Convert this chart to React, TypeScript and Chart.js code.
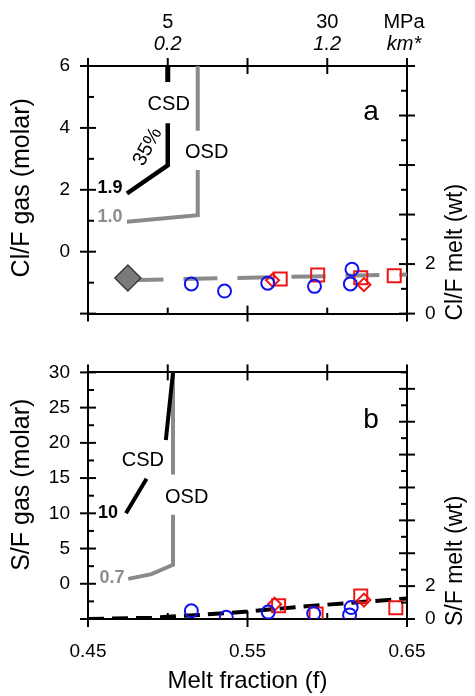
import React, { useEffect, useRef } from 'react';
import { Chart, registerables } from 'chart.js';
Chart.register(...registerables);

const FONT = '"Liberation Sans", Arial, Helvetica, sans-serif';

// ---------- shared x (melt fraction) ----------
const meltMin = 0.45;
const meltMax = 0.65;
const meltLabels = [0.45, 0.55, 0.65];
const meltMajor = [0.45, 0.55, 0.65];
const meltMinor = [0.5, 0.6];
const meltTopMajor = [0.45, 0.5, 0.55, 0.6, 0.65];
const topPositions = [0.5, 0.6, 0.65];
const pressureLabels = ['5', '30', 'MPa'];
const depthLabels = ['0.2', '1.2', 'km*'];

// ---------- panel a ----------
const clGasMin = -2;
const clGasMax = 6;
const clGasLabels = [0, 2, 4, 6];
const clGasMajor = [-2, 0, 2, 4, 6];
const clGasMinor = [-1, 1, 3, 5];
const clMeltMin = 0;
const clMeltMax = 10;
const clMeltLabels = [0, 2];
const clMeltMajor = [0, 2, 4, 6, 8, 10];
const clMeltMinor = [1, 3, 5, 7, 9];

const clCsdTop: number[][] = [[0.5, 6], [0.5, 5.48]];
const clCsdLow: number[][] = [[0.5, 4.15], [0.5, 2.79], [0.4744, 1.88]];
const clOsdTop: number[][] = [[0.5188, 6], [0.5188, 3.91]];
const clOsdLow: number[][] = [[0.5188, 2.64], [0.5188, 1.18], [0.4744, 0.97]];
const clTrend: number[][] = [[0.476, 1.35], [0.65, 1.58]];
const clStart: number[][] = [[0.475, 1.44]];
const clCircles: number[][] = [[0.5148, 1.2], [0.5356, 0.91], [0.5627, 1.23], [0.592, 1.1], [0.6145, 1.2], [0.6155, 1.79]];
const clSquares: number[][] = [[0.5705, 1.4], [0.594, 1.56], [0.621, 1.45], [0.642, 1.53]];
const clDiamonds: number[][] = [[0.5657, 1.35], [0.623, 1.17]];

// ---------- panel b ----------
const sfGasMin = -5;
const sfGasMax = 30;
const sfGasLabels = [0, 5, 10, 15, 20, 25, 30];
const sfGasMajor = [-5, 0, 5, 10, 15, 20, 25, 30];
const sfGasMinor = [-2.5, 2.5, 7.5, 12.5, 17.5, 22.5, 27.5];
const sfMeltMin = 0;
const sfMeltMax = 15;
const sfMeltLabels = [0, 2];
const sfMeltMajor = [0, 2, 4, 6, 8, 10, 12, 14];
const sfMeltMinor = [1, 3, 5, 7, 9, 11, 13, 15];

const sfCsdTop: number[][] = [[0.5033, 30], [0.4988, 20.4]];
const sfCsdLow: number[][] = [[0.4867, 14.9], [0.4738, 10.0]];
const sfOsdTop: number[][] = [[0.5033, 30], [0.5033, 15.5]];
const sfOsdLow: number[][] = [[0.5033, 9.8], [0.5033, 2.7], [0.4898, 1.37], [0.4752, 0.7]];
const sfTrend: number[][] = [[0.45, 0.0], [0.49, 0.08], [0.52, 0.25], [0.55, 0.45], [0.58, 0.72], [0.61, 0.95], [0.65, 1.25]];
const sfCircles: number[][] = [[0.5148, 0.5], [0.5367, 0.1], [0.563, 0.42], [0.5915, 0.33], [0.614, 0.25], [0.615, 0.7]];
const sfSquares: number[][] = [[0.5695, 0.8], [0.593, 0.3], [0.621, 1.4], [0.643, 0.68]];
const sfDiamonds: number[][] = [[0.567, 0.9], [0.623, 1.15]];

const BLUE = '#1212ee';
const RED = '#ee1515';
const GRAY = '#8a8a8a';

const pts = (a: number[][]) => a.map(([x, y]) => ({ x, y }));

type TickSpec = { axis: string; side: 'left' | 'right' | 'top' | 'bottom'; major: number[]; minor: number[] };
type Note = { text: string; x: number; y: number; size: number; color?: string; bold?: boolean; italic?: boolean; rot?: number; axis?: string };

function drawTicks(chart: any, specs: TickSpec[]) {
  const ctx = chart.ctx;
  const ca = chart.chartArea;
  const M = 8;
  const m = 6;
  ctx.save();
  ctx.strokeStyle = '#000';
  ctx.lineWidth = 2;
  for (const s of specs) {
    const sc = chart.scales[s.axis];
    const one = (v: number, major: boolean) => {
      const p = sc.getPixelForValue(v);
      ctx.beginPath();
      if (s.side === 'left') {
        const x0 = ca.left;
        ctx.moveTo(major ? x0 - M : x0, p);
        ctx.lineTo(x0 + (major ? M : m), p);
      } else if (s.side === 'right') {
        const x0 = ca.right;
        ctx.moveTo(x0 - (major ? M : m), p);
        ctx.lineTo(major ? x0 + M : x0, p);
      } else if (s.side === 'top') {
        const y0 = ca.top;
        ctx.moveTo(p, major ? y0 - M : y0);
        ctx.lineTo(p, y0 + (major ? M : m));
      } else {
        const y0 = ca.bottom;
        ctx.moveTo(p, y0 - (major ? M : m));
        ctx.lineTo(p, major ? y0 + M : y0);
      }
      ctx.stroke();
    };
    s.major.forEach((v) => one(v, true));
    s.minor.forEach((v) => one(v, false));
  }
  ctx.restore();
}

function drawNotes(chart: any, notes: Note[]) {
  const ctx = chart.ctx;
  for (const n of notes) {
    const px = chart.scales.x.getPixelForValue(n.x);
    const py = chart.scales[n.axis || 'y'].getPixelForValue(n.y);
    ctx.save();
    ctx.translate(px, py);
    if (n.rot) ctx.rotate((n.rot * Math.PI) / 180);
    ctx.font = `${n.italic ? 'italic ' : ''}${n.bold ? 'bold ' : ''}${n.size}px ${FONT}`;
    ctx.fillStyle = n.color || '#000';
    ctx.textAlign = 'center';
    ctx.textBaseline = 'middle';
    ctx.fillText(n.text, 0, 0);
    ctx.restore();
  }
}

// axis titles rotated to read bottom-to-top
function drawLeftTitle(chart: any, text: string, centerShift: number) {
  const ctx = chart.ctx;
  const ca = chart.chartArea;
  ctx.save();
  ctx.translate(22, (ca.top + ca.bottom) / 2 + centerShift);
  ctx.rotate(-Math.PI / 2);
  ctx.font = `25px ${FONT}`;
  ctx.fillStyle = '#000';
  ctx.textAlign = 'center';
  ctx.textBaseline = 'middle';
  ctx.fillText(text, 0, 0);
  ctx.restore();
}

function drawRightTitle(chart: any, text: string) {
  const ctx = chart.ctx;
  const ca = chart.chartArea;
  ctx.save();
  ctx.translate(ca.right + 49, ca.bottom + 7);
  ctx.rotate(-Math.PI / 2);
  ctx.font = `23px ${FONT}`;
  ctx.fillStyle = '#000';
  ctx.textAlign = 'left';
  ctx.textBaseline = 'middle';
  ctx.fillText(text, 0, 0);
  ctx.restore();
}

function fixedTicks(values: number[]) {
  return (scale: any) => {
    scale.ticks = values.map((v) => ({ value: v }));
  };
}

function baseScales(opts: {
  yMin: number; yMax: number; yLabels: number[];
  y2Min: number; y2Max: number; y2Labels: number[];
  topH: number; bottomH: number; showX: boolean;
}) {
  const border = { display: true, color: '#000', width: 2 };
  const noGrid = { display: false, drawTicks: false };
  return {
    x: {
      type: 'linear', position: 'bottom', min: meltMin, max: meltMax,
      grid: noGrid, border,
      afterBuildTicks: fixedTicks(meltLabels),
      ticks: {
        display: opts.showX, autoSkip: false, maxRotation: 0, padding: 21, color: '#000',
        font: { family: FONT, size: 19 },
        callback: (v: any) => Number(v).toFixed(2),
      },
      title: {
        display: opts.showX, text: 'Melt fraction (f)', color: '#000',
        font: { family: FONT, size: 24 }, padding: { top: 0, bottom: 0 },
      },
      afterFit: (s: any) => { s.height = opts.bottomH; },
    },
    xTop: {
      type: 'linear', position: 'top', min: meltMin, max: meltMax,
      grid: noGrid, border, ticks: { display: false },
      afterFit: (s: any) => { s.height = opts.topH; },
    },
    y: {
      type: 'linear', position: 'left', min: opts.yMin, max: opts.yMax,
      grid: noGrid, border,
      afterBuildTicks: fixedTicks(opts.yLabels),
      ticks: { autoSkip: false, padding: 18, color: '#000', font: { family: FONT, size: 19 } },
      afterFit: (s: any) => { s.width = 88; },
    },
    y2: {
      type: 'linear', position: 'right', min: opts.y2Min, max: opts.y2Max,
      grid: noGrid, border,
      afterBuildTicks: fixedTicks(opts.y2Labels),
      ticks: { autoSkip: false, padding: 18, color: '#000', font: { family: FONT, size: 19 } },
      afterFit: (s: any) => { s.width = 68; },
    },
  };
}

const lineDs = (data: number[][], color: string, width: number, dash: number[] = [], axis = 'y') => ({
  data: pts(data), showLine: true, borderColor: color, borderWidth: width, borderDash: dash,
  pointRadius: 0, yAxisID: axis, fill: false, tension: 0, borderCapStyle: 'butt',
});
const markDs = (data: number[][], style: string, color: string, radius: number, width = 2, fillColor = 'rgba(0,0,0,0)') => ({
  data: pts(data), showLine: false, pointStyle: style, pointRadius: radius, pointBorderWidth: width,
  pointBorderColor: color, pointBackgroundColor: fillColor, yAxisID: 'y2',
});

function useChart(ref: React.RefObject<HTMLCanvasElement>, make: () => any) {
  useEffect(() => {
    if (!ref.current) return;
    const c = new Chart(ref.current, make());
    return () => c.destroy();
  }, []);
}

export default function App() {
  const refA = useRef<HTMLCanvasElement>(null);
  const refB = useRef<HTMLCanvasElement>(null);

  useChart(refA, () => ({
    type: 'scatter',
    data: {
      datasets: [
        markDs(clStart, 'rectRot', '#3a3a3a', 13, 1.5, '#7a7a7a'),
        markDs(clCircles, 'circle', BLUE, 6.5),
        markDs(clSquares, 'rect', RED, 9.2),
        markDs(clDiamonds, 'rectRot', RED, 6.5),
        lineDs(clTrend, GRAY, 4, [34, 20], 'y2'),
        lineDs(clCsdTop, '#000', 5),
        lineDs(clCsdLow, '#000', 4.5),
        lineDs(clOsdTop, GRAY, 4),
        lineDs(clOsdLow, GRAY, 4),
      ],
    },
    options: {
      responsive: false, maintainAspectRatio: false, animation: false, events: [],
      layout: { padding: 0 },
      plugins: { legend: { display: false }, tooltip: { enabled: false } },
      scales: baseScales({
        yMin: clGasMin, yMax: clGasMax, yLabels: clGasLabels,
        y2Min: clMeltMin, y2Max: clMeltMax, y2Labels: clMeltLabels,
        topH: 66, bottomH: 13, showX: false,
      }),
    },
    plugins: [{
      id: 'decorA',
      afterDraw(chart: any) {
        drawTicks(chart, [
          { axis: 'y', side: 'left', major: clGasMajor, minor: clGasMinor },
          { axis: 'y2', side: 'right', major: clMeltMajor, minor: clMeltMinor },
          { axis: 'xTop', side: 'top', major: meltTopMajor, minor: [] },
          { axis: 'x', side: 'bottom', major: meltMajor, minor: meltMinor },
        ]);
        const ctx = chart.ctx;
        const xs = chart.scales.xTop;
        ctx.save();
        ctx.fillStyle = '#000';
        ctx.textAlign = 'center';
        ctx.textBaseline = 'middle';
        topPositions.forEach((v, i) => {
          const px = xs.getPixelForValue(v) - (i === 2 ? 3 : 0);
          ctx.font = `20px ${FONT}`;
          ctx.fillText(pressureLabels[i], px, 22);
          ctx.font = `italic 20px ${FONT}`;
          ctx.fillText(depthLabels[i], px, 44);
        });
        ctx.restore();
        drawLeftTitle(chart, 'Cl/F gas (molar)', -2);
        drawRightTitle(chart, 'Cl/F melt (wt)');
        drawNotes(chart, [
          { text: 'CSD', x: 0.5006, y: 4.76, size: 20 },
          { text: 'OSD', x: 0.5244, y: 3.21, size: 20 },
          { text: '35%', x: 0.4875, y: 3.39, size: 20, rot: -62 },
          { text: '1.9', x: 0.4638, y: 2.06, size: 18, bold: true },
          { text: '1.0', x: 0.4638, y: 1.12, size: 18, bold: true, color: '#8c8c8c' },
          { text: 'a', x: 0.6275, y: 4.52, size: 28 },
        ]);
      },
    }],
  }));

  useChart(refB, () => ({
    type: 'scatter',
    data: {
      datasets: [
        markDs(sfCircles, 'circle', BLUE, 6.5),
        markDs(sfSquares, 'rect', RED, 9.2),
        markDs(sfDiamonds, 'rectRot', RED, 6.5),
        lineDs(sfTrend, '#000', 4, [16, 8], 'y2'),
        lineDs(sfCsdTop, '#000', 4),
        lineDs(sfCsdLow, '#000', 4),
        lineDs(sfOsdTop, GRAY, 4),
        lineDs(sfOsdLow, GRAY, 4),
      ],
    },
    options: {
      responsive: false, maintainAspectRatio: false, animation: false, events: [],
      layout: { padding: 0 },
      plugins: { legend: { display: false }, tooltip: { enabled: false } },
      scales: baseScales({
        yMin: sfGasMin, yMax: sfGasMax, yLabels: sfGasLabels,
        y2Min: sfMeltMin, y2Max: sfMeltMax, y2Labels: sfMeltLabels,
        topH: 13, bottomH: 77, showX: true,
      }),
    },
    plugins: [{
      id: 'decorB',
      afterDraw(chart: any) {
        drawTicks(chart, [
          { axis: 'y', side: 'left', major: sfGasMajor, minor: sfGasMinor },
          { axis: 'y2', side: 'right', major: sfMeltMajor, minor: sfMeltMinor },
          { axis: 'xTop', side: 'top', major: meltTopMajor, minor: [] },
          { axis: 'x', side: 'bottom', major: meltMajor, minor: meltMinor },
        ]);
        drawLeftTitle(chart, 'S/F gas (molar)', -11);
        drawRightTitle(chart, 'S/F melt (wt)');
        drawNotes(chart, [
          { text: 'CSD', x: 0.4844, y: 17.5, size: 20 },
          { text: 'OSD', x: 0.5119, y: 12.3, size: 20 },
          { text: '10', x: 0.4625, y: 10.1, size: 18, bold: true },
          { text: '0.7', x: 0.465, y: 0.8, size: 18, bold: true, color: '#8c8c8c' },
          { text: 'b', x: 0.6275, y: 23.2, size: 28 },
        ]);
      },
    }],
  }));

  return (
    <div style={{ position: 'fixed', left: 0, top: 0, width: 475, height: 696, background: '#fff' }}>
      <canvas ref={refA} width={475} height={343} style={{ position: 'absolute', left: 0, top: 0, width: 475, height: 343 }} />
      <canvas ref={refB} width={475} height={353} style={{ position: 'absolute', left: 0, top: 343, width: 475, height: 353 }} />
    </div>
  );
}
